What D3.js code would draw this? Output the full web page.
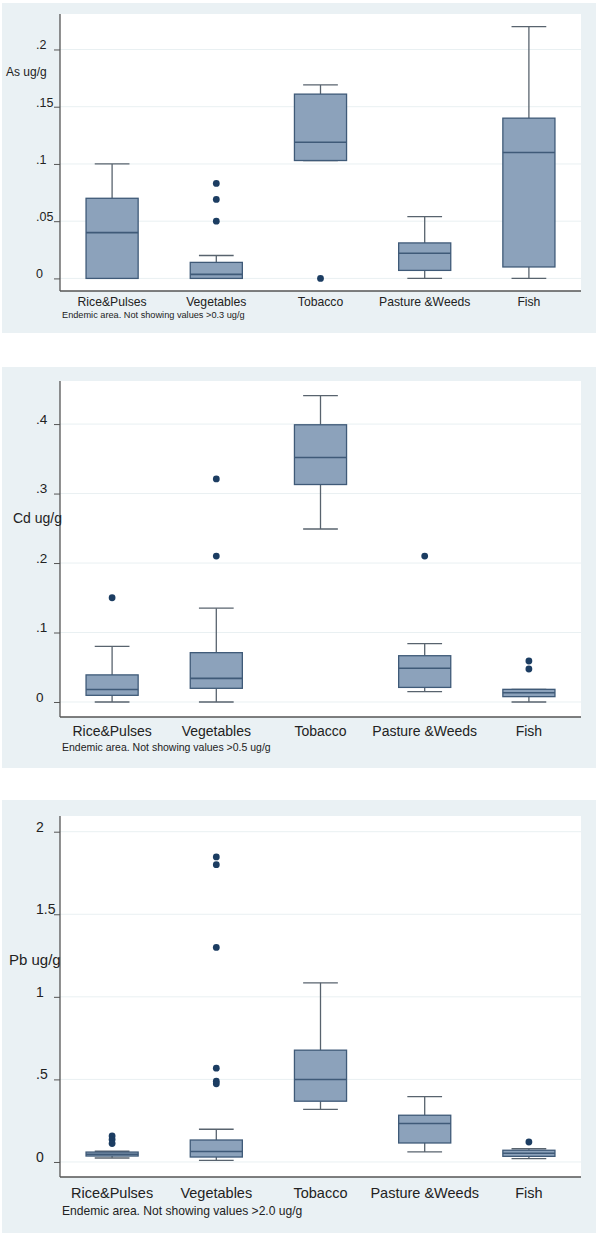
<!DOCTYPE html>
<html><head><meta charset="utf-8">
<script src="https://cdn.jsdelivr.net/npm/d3@7"></script>
<style>
body{margin:0;background:#fff;}
svg{display:block;font-family:"Liberation Sans",Arial,sans-serif;}
</style></head>
<body>
<svg id="c" width="600" height="1237"></svg>
<script>
// ---------------- DATA ----------------
const categories = ["Rice&Pulses", "Vegetables", "Tobacco", "Pasture &Weeds", "Fish"];

// Arsenic (As ug/g)
const asLow     = [0, 0, 0.103, 0, 0];
const asQ1      = [0, 0, 0.103, 0.007, 0.010];
const asMedian  = [0.040, 0.0035, 0.119, 0.022, 0.110];
const asQ3      = [0.070, 0.014, 0.161, 0.031, 0.140];
const asHigh    = [0.100, 0.020, 0.169, 0.054, 0.220];
const asOutliers = [[], [0.083, 0.069, 0.050], [0], [], []];
const asTicks = [0, 0.05, 0.1, 0.15, 0.2];
const asTickLabels = ["0", ".05", ".1", ".15", ".2"];

// Cadmium (Cd ug/g)
const cdLow     = [0, 0, 0.249, 0.015, 0];
const cdQ1      = [0.0096, 0.0197, 0.313, 0.021, 0.0077];
const cdMedian  = [0.018, 0.034, 0.352, 0.0485, 0.0134];
const cdQ3      = [0.039, 0.071, 0.399, 0.0666, 0.0182];
const cdHigh    = [0.080, 0.135, 0.441, 0.084, 0.0182];
const cdOutliers = [[0.150], [0.321, 0.210], [], [0.210], [0.059, 0.0475]];
const cdTicks = [0, 0.1, 0.2, 0.3, 0.4];
const cdTickLabels = ["0", ".1", ".2", ".3", ".4"];

// Lead (Pb ug/g)
const pbLow     = [0.024, 0.010, 0.318, 0.061, 0.020];
const pbQ1      = [0.036, 0.030, 0.368, 0.115, 0.034];
const pbMedian  = [0.047, 0.063, 0.499, 0.233, 0.053];
const pbQ3      = [0.060, 0.133, 0.677, 0.283, 0.071];
const pbHigh    = [0.065, 0.198, 1.085, 0.396, 0.080];
const pbOutliers = [[0.158, 0.136, 0.112], [1.847, 1.80, 1.299, 0.568, 0.489, 0.473], [], [], [0.121]];
const pbTicks = [0, 0.5, 1, 1.5, 2];
const pbTickLabels = ["0", ".5", "1", "1.5", "2"];

const yTitles = ["As ug/g", "Cd ug/g", "Pb ug/g"];
const notes = [
  "Endemic area. Not showing values >0.3 ug/g",
  "Endemic area.  Not showing  values >0.5 ug/g",
  "Endemic area. Not showing values >2.0 ug/g"
];

// ---------------- LAYOUT ----------------
const panels = [
  {low:asLow,q1:asQ1,med:asMedian,q3:asQ3,high:asHigh,out:asOutliers,ticks:asTicks,tl:asTickLabels,
   bg:[3,333], top:14, bottom:291, dom:[-0.011,0.231],
   tickFs:12.5, catFs:12.2, noteFs:9.2, titleFs:12, titleX:6, titleY:76, catY:306, noteY:318},
  {low:cdLow,q1:cdQ1,med:cdMedian,q3:cdQ3,high:cdHigh,out:cdOutliers,ticks:cdTicks,tl:cdTickLabels,
   bg:[367,768], top:381, bottom:717, dom:[-0.0216,0.462],
   tickFs:13.5, catFs:14, noteFs:10.5, titleFs:14, titleX:13, titleY:523, catY:736, noteY:751},
  {low:pbLow,q1:pbQ1,med:pbMedian,q3:pbQ3,high:pbHigh,out:pbOutliers,ticks:pbTicks,tl:pbTickLabels,
   bg:[800,1233], top:816, bottom:1177, dom:[-0.091,2.095],
   tickFs:14, catFs:14.5, noteFs:12.1, titleFs:15, titleX:9, titleY:965, catY:1198, noteY:1215}
];

const svg = d3.select("#c");
const left = 60, right = 581;
const x = d3.scaleBand().domain(categories).range([left, right]).padding(0);
const bw = x.bandwidth();
const boxW = bw * 0.5, capW = bw / 3;

const BG = "#eaf1f4", FILL = "#8ca2bb", STROKE = "#3f5a78", WHISK = "#58636e", DOT = "#1c3d62";

panels.forEach((p, pi) => {
  const g = svg.append("g");
  g.append("rect").attr("x", 2).attr("y", p.bg[0]).attr("width", 594).attr("height", p.bg[1] - p.bg[0]).attr("fill", BG);
  g.append("rect").attr("x", left).attr("y", p.top).attr("width", right - left).attr("height", p.bottom - p.top).attr("fill", "#fff");

  const y = d3.scaleLinear().domain(p.dom).range([p.bottom, p.top]);

  // gridlines
  g.selectAll(".grid").data(p.ticks).join("line")
    .attr("x1", left).attr("x2", right)
    .attr("y1", d => y(d)).attr("y2", d => y(d))
    .attr("stroke", "#e9f0f2").attr("stroke-width", 1);

  // y axis via d3
  const yAxis = d3.axisLeft(y).tickValues(p.ticks).tickSize(6).tickFormat((d, i) => p.tl[i]);
  const ax = g.append("g").attr("transform", `translate(${left},0)`).call(yAxis);
  ax.select(".domain").remove();
  ax.selectAll(".tick line").attr("stroke", "#555");
  ax.selectAll(".tick text").attr("x", 36 - left).attr("dy", "-0.05em")
    .attr("text-anchor", "start").attr("font-size", p.tickFs).attr("fill", "#222")
    .attr("font-family", "Liberation Sans, Arial, sans-serif");
  g.append("line").attr("x1", left).attr("x2", left).attr("y1", p.top).attr("y2", p.bottom).attr("stroke", "#555").attr("stroke-width", 1.3);
  g.append("line").attr("x1", left).attr("x2", right).attr("y1", p.bottom).attr("y2", p.bottom).attr("stroke", "#555").attr("stroke-width", 1.3);

  // x labels
  g.selectAll(".cat").data(categories).join("text")
    .attr("x", d => x(d) + bw / 2).attr("y", p.catY)
    .attr("text-anchor", "middle").attr("font-size", p.catFs).attr("fill", "#222").text(d => d);

  // y title & note
  g.append("text").attr("x", p.titleX).attr("y", p.titleY).attr("font-size", p.titleFs).attr("fill", "#222").text(yTitles[pi]);
  g.append("text").attr("x", 62).attr("y", p.noteY).attr("font-size", p.noteFs).attr("fill", "#222").text(notes[pi]);

  // boxes
  categories.forEach((c, i) => {
    const cx = x(c) + bw / 2;
    const bx = g.append("g");
    if (p.high[i] > p.q3[i]) {
      bx.append("line").attr("x1", cx).attr("x2", cx).attr("y1", y(p.q3[i])).attr("y2", y(p.high[i])).attr("stroke", WHISK).attr("stroke-width", 1.3);
    }
    bx.append("line").attr("x1", cx - capW / 2).attr("x2", cx + capW / 2).attr("y1", y(p.high[i])).attr("y2", y(p.high[i])).attr("stroke", WHISK).attr("stroke-width", 1.3);
    if (p.low[i] < p.q1[i]) {
      bx.append("line").attr("x1", cx).attr("x2", cx).attr("y1", y(p.q1[i])).attr("y2", y(p.low[i])).attr("stroke", WHISK).attr("stroke-width", 1.3);
    }
    bx.append("line").attr("x1", cx - capW / 2).attr("x2", cx + capW / 2).attr("y1", y(p.low[i])).attr("y2", y(p.low[i])).attr("stroke", WHISK).attr("stroke-width", 1.3);
    bx.append("rect").attr("x", cx - boxW / 2).attr("width", boxW)
      .attr("y", y(p.q3[i])).attr("height", Math.max(1, y(p.q1[i]) - y(p.q3[i])))
      .attr("fill", FILL).attr("stroke", STROKE).attr("stroke-width", 1.3);
    bx.append("line").attr("x1", cx - boxW / 2).attr("x2", cx + boxW / 2).attr("y1", y(p.med[i])).attr("y2", y(p.med[i])).attr("stroke", STROKE).attr("stroke-width", 1.6);
    bx.selectAll("circle").data(p.out[i]).join("circle")
      .attr("cx", cx).attr("cy", d => y(d)).attr("r", 3.4).attr("fill", DOT);
  });
});
</script>
</body></html>
